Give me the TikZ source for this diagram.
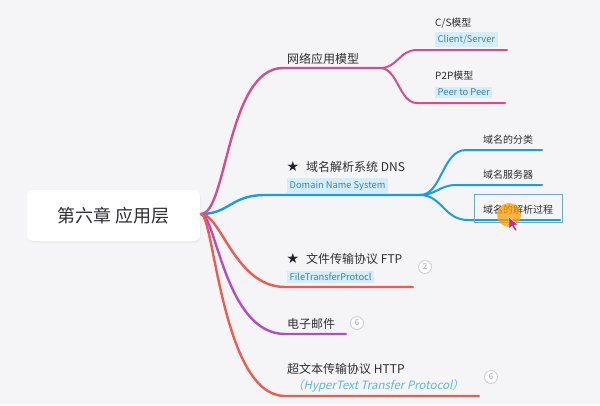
\documentclass[tikz,border=0pt]{standalone}
\usepackage{fontspec}
\setmainfont[AutoFakeSlant=0.22]{Noto Sans CJK SC}
\newfontfamily\symfont{DejaVu Sans}
\definecolor{bg}{HTML}{F5F5F7}
\definecolor{txt}{HTML}{2E2E33}
\definecolor{tagbg}{HTML}{D5EDF7}
\definecolor{tagfg}{HTML}{3C82AA}
\definecolor{badgeln}{HTML}{CFCFD2}
\definecolor{badgetx}{HTML}{A0A0A4}
\definecolor{pinkc}{HTML}{D24F8C}
\definecolor{bluec}{HTML}{1A9DE1}
\definecolor{redc}{HTML}{EE5C50}
\definecolor{purc}{HTML}{B34DC3}
\definecolor{selc}{HTML}{6FA6D9}
\definecolor{italc}{HTML}{5BB8E0}
\definecolor{starc}{HTML}{1E2030}
\begin{document}
\begin{tikzpicture}[x=1pt,y=-1pt,
  every node/.style={inner sep=0pt, anchor=west, text=txt},
  lbl/.style={font=\fontsize{12}{14}\selectfont},
  sub/.style={font=\fontsize{10}{12}\selectfont},
  tag/.style={font=\fontsize{9.3}{11}\selectfont, fill=tagbg, text=tagfg, inner xsep=2.5pt, inner ysep=2.5pt},
  badge/.style={circle, draw=badgeln, fill=white, line width=0.9pt, minimum size=13pt, font=\fontsize{8}{9}\selectfont, text=badgetx, anchor=center},
  br/.style={line width=2.4pt, line cap=round},
  sb/.style={line width=2pt, line cap=round},
  star/.style={font=\symfont\fontsize{14}{15}\selectfont, text=starc, anchor=center}
]
\useasboundingbox (0,0) rectangle (600,405);
\fill[bg] (0,0) rectangle (600,405);

% root
\fill[black!8, rounded corners=6pt] (27.5,191.5) rectangle (201,242.5);
\fill[white, rounded corners=6pt] (27,190) rectangle (200,241);
\node[anchor=center, font=\fontsize{18}{21}\selectfont] (root) at (113.5,216) {第六章 应用层};
\coordinate (o) at (201,214);

% branch 1 : network application models
\coordinate (pk0) at (283,68);
\coordinate (pks) at (380,68);
\coordinate (pk1) at (417,50);
\coordinate (pk1e) at (507,50);
\coordinate (pk2) at (417,103);
\coordinate (pk2e) at (505,103);
\draw[br,pinkc] (o) .. controls +(26,0) and +(-56,0) .. (pk0) -- (pks);
\draw[sb,pinkc] (pks) .. controls +(18,0) and +(-18,0) .. (pk1) -- (pk1e);
\draw[sb,pinkc] (pks) .. controls +(18,0) and +(-18,0) .. (pk2) -- (pk2e);
\node[lbl] (net) at (287,59) {网络应用模型};
\node[sub] (cs) at (435,23) {C/S模型};
\node[tag] (csen) at (435,39.5) {Client/Server};
\node[sub] (p2p) at (435,76) {P2P模型};
\node[tag] (p2pen) at (435,92.5) {Peer to Peer};

% branch 2 : DNS
\coordinate (bl0) at (265,195);
\coordinate (bls) at (420,195);
\coordinate (bl1) at (466,150);
\coordinate (bl1e) at (542,150);
\coordinate (bl2) at (456,185);
\coordinate (bl2e) at (542,185);
\coordinate (bl3) at (468,220);
\coordinate (bl3e) at (560,220);
\draw[br,bluec] (o) .. controls +(28,0) and +(-34,0) .. (bl0) -- (bls);
\draw[sb,bluec] (bls) .. controls +(22,0) and +(-24,0) .. (bl1) -- (bl1e);
\draw[sb,bluec] (bls) .. controls +(16,0) and +(-16,0) .. (bl2) -- (bl2e);
\draw[sb,bluec] (bls) .. controls +(22,0) and +(-24,0) .. (bl3) -- (bl3e);
\node[star] (st1) at (293,166.5) {★};
\node[lbl] (dns) at (306,166.5) {域名解析系统 DNS};
\node[tag] (dnsen) at (287,185.5) {Domain Name System};
\node[sub] (d1) at (483,140) {域名的分类};
\node[sub] (d2) at (483,175) {域名服务器};
\node[sub] (d3) at (483,210) {域名的解析过程};
\node[draw=selc, line width=0.8pt, minimum width=88pt, minimum height=28pt, anchor=north west] (sel) at (474,194) {};
\fill[orange!75!yellow, opacity=0.75] (509,215) circle (12);
\coordinate (cur) at (509,217);
\fill[magenta!80!black, draw=white, line width=0.4pt] (cur) -- ++(0,12) -- ++(3,-3) -- ++(3,5) -- ++(2,-1) -- ++(-3,-5) -- ++(4,0) -- cycle;

% branch 3 : FTP
\coordinate (f0) at (285,287);
\coordinate (fe) at (413,287);
\draw[br,redc] (o) .. controls +(20,0) and +(-50,0) .. (f0) -- (fe);
\node[star] (st2) at (293,258.5) {★};
\node[lbl] (ftp) at (306,258.5) {文件传输协议 FTP};
\node[tag] (ftpen) at (287,277) {FileTransferProtocl};
\node[badge] (b1) at (425,267) {2};

% branch 4 : e-mail
\coordinate (m0) at (285,334);
\coordinate (me) at (346,334);
\draw[br,purc] (o) .. controls +(15,0) and +(-60,0) .. (m0) -- (me);
\node[lbl] (mail) at (287,324) {电子邮件};
\node[badge] (b2) at (357,323) {6};

% branch 5 : HTTP
\coordinate (h0) at (285,396);
\coordinate (he) at (479,396);
\draw[br,redc] (o) .. controls +(13,0) and +(-63,0) .. (h0) -- (he);
\node[lbl] (http) at (287,368.5) {超文本传输协议 HTTP};
\node[font=\fontsize{11.5}{13}\selectfont\itshape, text=italc] (httpen) at (292,386) {（HyperText Transfer Protocol）};
\node[badge] (b3) at (491,377) {6};
\end{tikzpicture}
\end{document}
